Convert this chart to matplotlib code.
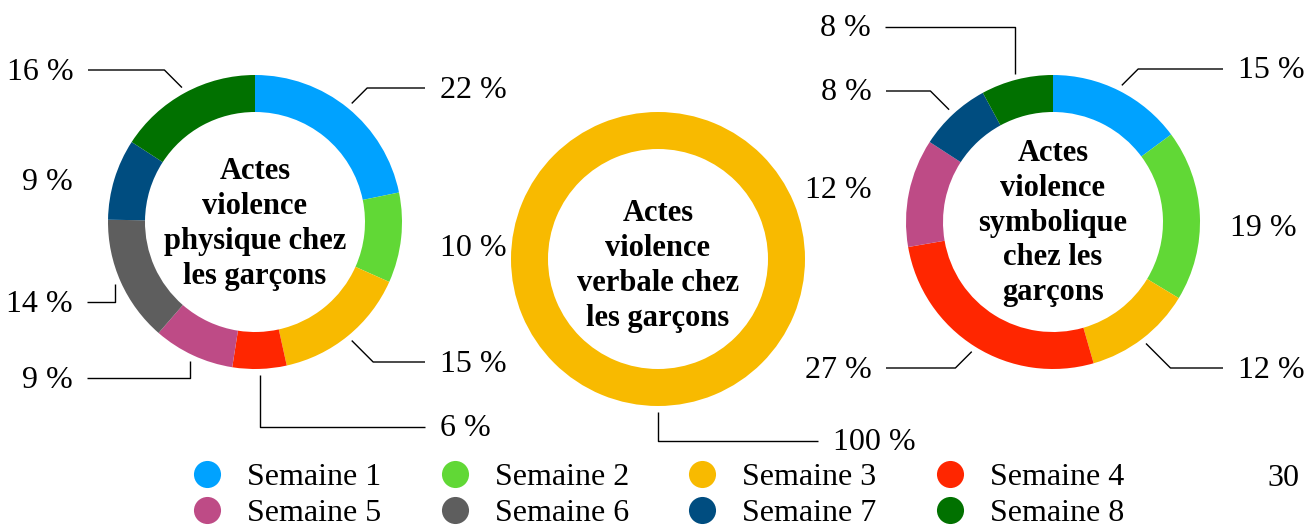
import numpy as np
import matplotlib
matplotlib.use("Agg")
import matplotlib.pyplot as plt
from matplotlib.lines import Line2D

plt.rcParams['font.family'] = ['Liberation Serif', 'DejaVu Serif']

# ---------------- data ----------------
weeks = ['Semaine 1', 'Semaine 2', 'Semaine 3', 'Semaine 4',
         'Semaine 5', 'Semaine 6', 'Semaine 7', 'Semaine 8']
colors = ['#00A2FF', '#61D836', '#F8BA00', '#FF2600',
          '#BE4B86', '#5E5E5E', '#004D80', '#017100']
physique = [22, 10, 15, 6, 9, 14, 9, 16]
verbale = [0, 0, 100, 0, 0, 0, 0, 0]
symbolique = [15, 19, 12, 27, 12, 0, 8, 8]
titles = ['Actes\nviolence\nphysique chez\nles garçons',
          'Actes\nviolence\nverbale chez\nles garçons',
          'Actes\nviolence\nsymbolique\nchez les\ngarçons']
page_number = '30'

# ---------------- layout (pixel space, y from top) ----------------
W, H = 1315, 529
R_OUT, RING = 147, 37
R_ANCH = 153
centers = [(255, 222), (658, 259), (1053, 222)]
title_offsets = [2, 7, 1]
# index -> (kind, line y, end x / text x)
layouts = [
    {0: ('diag', 88, 425), 1: ('none', 247, 440), 2: ('diag', 362, 425),
     3: ('vert', 427, 425), 4: ('vert', 378, 87), 5: ('vert', 302, 87),
     6: ('none', 181, 73), 7: ('diag', 70, 88)},
    {2: ('vert', 441, 818)},
    {0: ('diag', 69, 1223), 1: ('none', 227, 1230), 2: ('diag', 368, 1223),
     3: ('diag', 368, 886), 4: ('none', 188, 872), 6: ('diag', 91, 886),
     7: ('vert', 27, 885)},
]

fig = plt.figure(figsize=(W / 100, H / 100), dpi=100)
ax = fig.add_axes([0, 0, 1, 1])

def Y(y):
    return H - y

for vals, (cx, cy), title, lay, toff in zip([physique, verbale, symbolique],
                                            centers, titles, layouts, title_offsets):
    wedges, _ = ax.pie(vals, colors=colors, center=(cx, Y(cy)), radius=R_OUT,
                       startangle=90, counterclock=False,
                       wedgeprops=dict(width=RING, edgecolor='none', linewidth=0))
    ax.text(cx, Y(cy + toff), title, ha='center', va='center', fontsize=22,
            fontweight='bold', linespacing=1.27)
    for i, (kind, ly, ex) in lay.items():
        w = wedges[i]
        mid = np.deg2rad((w.theta1 + w.theta2) / 2)
        xa = cx + R_ANCH * np.cos(mid)
        ya = Y(cy) + R_ANCH * np.sin(mid)
        yl = Y(ly)
        label = f'{vals[i]} %'
        if kind == 'none':
            right = ex > cx
            ax.text(ex, yl - 2, label, ha='left' if right else 'right',
                    va='center', fontsize=23)
            continue
        right = ex > xa
        if kind == 'diag':
            xe = xa + abs(yl - ya) * (1 if right else -1)
        else:
            xe = xa
        ax.plot([xa, xe, ex], [ya, yl, yl], color='black', lw=1.0,
                solid_capstyle='butt')
        if right:
            ax.text(ex + 15, yl - 2, label, ha='left', va='center', fontsize=23)
        else:
            ax.text(ex - 14, yl - 2, label, ha='right', va='center', fontsize=23)

ax.set_xlim(0, W)
ax.set_ylim(0, H)
ax.set_aspect('equal')
ax.axis('off')

# legend (row-major order)
order = [0, 4, 1, 5, 2, 6, 3, 7]
handles = [Line2D([], [], marker='o', linestyle='none', markersize=19.5,
                  markerfacecolor=colors[i], markeredgecolor='none') for i in order]
fig.legend(handles, [weeks[i] for i in order], ncol=4, frameon=False,
           fontsize=23, handlelength=1.0, handletextpad=0.75,
           columnspacing=1.8, labelspacing=0.2, borderpad=0,
           loc='upper left', bbox_to_anchor=(175 / W, 1 - 447 / H))

fig.text(1283 / W, 1 - 478 / H, page_number, ha='center', va='center', fontsize=23)

fig.savefig('out.png', dpi=100)
